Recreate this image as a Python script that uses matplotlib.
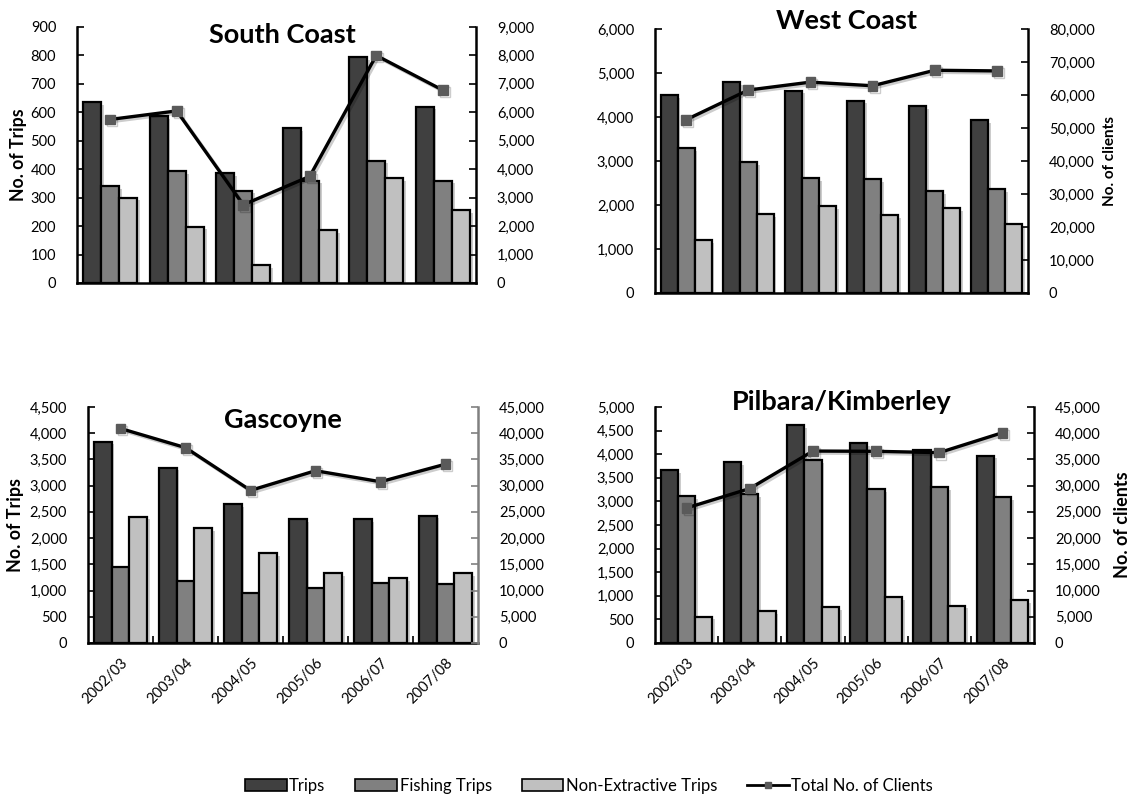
import matplotlib
matplotlib.use("Agg")
import matplotlib.pyplot as plt
from matplotlib.ticker import FuncFormatter, MultipleLocator, FixedLocator
from matplotlib.patches import Patch
from matplotlib.lines import Line2D
import matplotlib.patheffects as pe
import numpy as np

plt.rcParams['font.family'] = ['Lato', 'DejaVu Sans']

years = ["2002/03", "2003/04", "2004/05", "2005/06", "2006/07", "2007/08"]

south_trips = [635, 588, 385, 545, 795, 620]
south_fishing = [340, 392, 325, 360, 430, 360]
south_nonext = [300, 198, 62, 185, 368, 255]
south_clients = [5750, 6050, 2750, 3750, 8000, 6780]

west_trips = [4490, 4785, 4600, 4370, 4255, 3935]
west_fishing = [3290, 2970, 2615, 2590, 2315, 2360]
west_nonext = [1210, 1800, 1975, 1770, 1930, 1565]
west_clients = [52500, 61500, 63900, 62800, 67500, 67300]

gas_trips = [3840, 3345, 2645, 2360, 2360, 2430]
gas_fishing = [1445, 1175, 955, 1040, 1140, 1120]
gas_nonext = [2410, 2185, 1710, 1330, 1230, 1340]
gas_clients = [40900, 37250, 29100, 32850, 30750, 34100]

pil_trips = [3660, 3830, 4610, 4230, 4095, 3970]
pil_fishing = [3105, 3150, 3870, 3255, 3310, 3085]
pil_nonext = [560, 670, 755, 980, 790, 905]
pil_clients = [25750, 29450, 36600, 36550, 36300, 40100]

series_names = ["Trips", "Fishing Trips", "Non-Extractive Trips", "Total No. of Clients"]
bar_colors = ["#404040", "#808080", "#c0c0c0"]

W, H = 1134, 794
fig = plt.figure(figsize=(W / 100, H / 100), dpi=100)

fmt = FuncFormatter(lambda v, p: f"{int(round(v)):,}")


def rect(l, r, t, b):
    return [l / W, 1 - b / H, (r - l) / W, (b - t) / H]


panels = [
    dict(title="South Coast", data=(south_trips, south_fishing, south_nonext, south_clients),
         rect=rect(77, 476, 27, 283), lmax=900, lstep=100, rmax=9000, rstep=1000,
         ylab=("No. of Trips", 19, 12.7), rspine="black", xlabels=False, tpos=(282, 43)),
    dict(title="West Coast", data=(west_trips, west_fishing, west_nonext, west_clients),
         rect=rect(655, 1028, 29, 293), lmax=6000, lstep=1000, rmax=80000, rstep=10000,
         ylab=("No. of clients", 1110, 11), rspine="black", xlabels=False, tpos=(847, 29)),
    dict(title="Gascoyne", data=(gas_trips, gas_fishing, gas_nonext, gas_clients),
         rect=rect(88, 478, 407, 643), lmax=4500, lstep=500, rmax=45000, rstep=5000,
         ylab=("No. of Trips", 16, 12.9), rspine="#808080", xlabels=True, tpos=(283, 428)),
    dict(title="Pilbara/Kimberley", data=(pil_trips, pil_fishing, pil_nonext, pil_clients),
         rect=rect(655, 1034, 407, 643), lmax=5000, lstep=500, rmax=45000, rstep=5000,
         ylab=("No. of clients", 1122, 13), rspine="black", xlabels=True, tpos=(842, 410)),
]

shadow = [pe.SimplePatchShadow(offset=(2, -2), shadow_rgbFace="#000000", alpha=0.2), pe.Normal()]
lshadow = [pe.SimpleLineShadow(offset=(1.5, -1.5), alpha=0.2), pe.Normal()]

x = np.arange(len(years))
w = 0.273
for p in panels:
    ax = fig.add_axes(p["rect"])
    trips, fishing, nonext, clients = p["data"]
    for i, (vals, c) in enumerate(zip((trips, fishing, nonext), bar_colors)):
        bars = ax.bar(x + (i - 1) * w, vals, width=w, color=c, edgecolor="black", linewidth=1.6, zorder=2)
        for b in bars:
            b.set_path_effects(shadow)
    ax.set_xlim(-0.5, len(years) - 0.5)
    ax.set_ylim(0, p["lmax"])
    ax.yaxis.set_major_locator(MultipleLocator(p["lstep"]))
    ax.yaxis.set_major_formatter(fmt)
    ax.spines["top"].set_visible(False)
    ax.spines["right"].set_visible(False)
    for s in ("left", "bottom"):
        ax.spines[s].set_linewidth(1.8)
    ax.tick_params(axis="y", direction="in", length=5, width=1.2, labelsize=10.5, pad=15)
    ax.set_xticks(x)
    if p["xlabels"]:
        ax.set_xticklabels(years, rotation=45, ha="right", rotation_mode="anchor", fontsize=10.5)
        ax.tick_params(axis="x", which="major", length=0, pad=9)
        ax.xaxis.set_minor_locator(FixedLocator(np.arange(0.5, len(years) - 0.5, 1.0)))
        ax.tick_params(axis="x", which="minor", direction="in", length=5, width=1.2)
    else:
        ax.set_xticklabels([])
        ax.tick_params(axis="x", length=0)

    ax2 = ax.twinx()
    ax2.plot(x, clients, color="black", linewidth=2.4, marker="s", markersize=7,
             markerfacecolor="#5a5a5a", markeredgecolor="#5a5a5a", zorder=3,
             path_effects=lshadow)
    ax2.set_ylim(0, p["rmax"])
    ax2.yaxis.set_major_locator(MultipleLocator(p["rstep"]))
    ax2.yaxis.set_major_formatter(fmt)
    for s in ("top", "left", "bottom"):
        ax2.spines[s].set_visible(False)
    ax2.spines["right"].set_linewidth(1.8)
    ax2.spines["right"].set_color(p["rspine"])
    ax2.tick_params(axis="y", direction="in", length=5, width=1.2, labelsize=10.5, pad=15,
                    color=p["rspine"])

    label, lx, lsize = p["ylab"]
    r = p["rect"]
    fig.text(lx / W, r[1] + r[3] / 2, label, rotation=90, fontsize=lsize, fontweight="bold",
             ha="center", va="center")

    fig.text(p["tpos"][0] / W, 1 - p["tpos"][1] / H, p["title"], fontsize=19.5, fontweight="bold",
             ha="center", va="baseline")

handles = [Patch(facecolor=c, edgecolor="black", linewidth=1.2) for c in bar_colors]
handles.append(Line2D([0], [0], color="black", linewidth=2, marker="s", markersize=4,
                      markerfacecolor="#5a5a5a", markeredgecolor="#5a5a5a"))
fig.legend(handles, series_names, loc="center", bbox_to_anchor=(589 / W, 1 - 786 / H), ncol=4,
           frameon=False, fontsize=12, columnspacing=1.8, handlelength=2.5, handleheight=0.7,
           handletextpad=0.15, borderpad=0)

fig.savefig("out.png", dpi=100)
